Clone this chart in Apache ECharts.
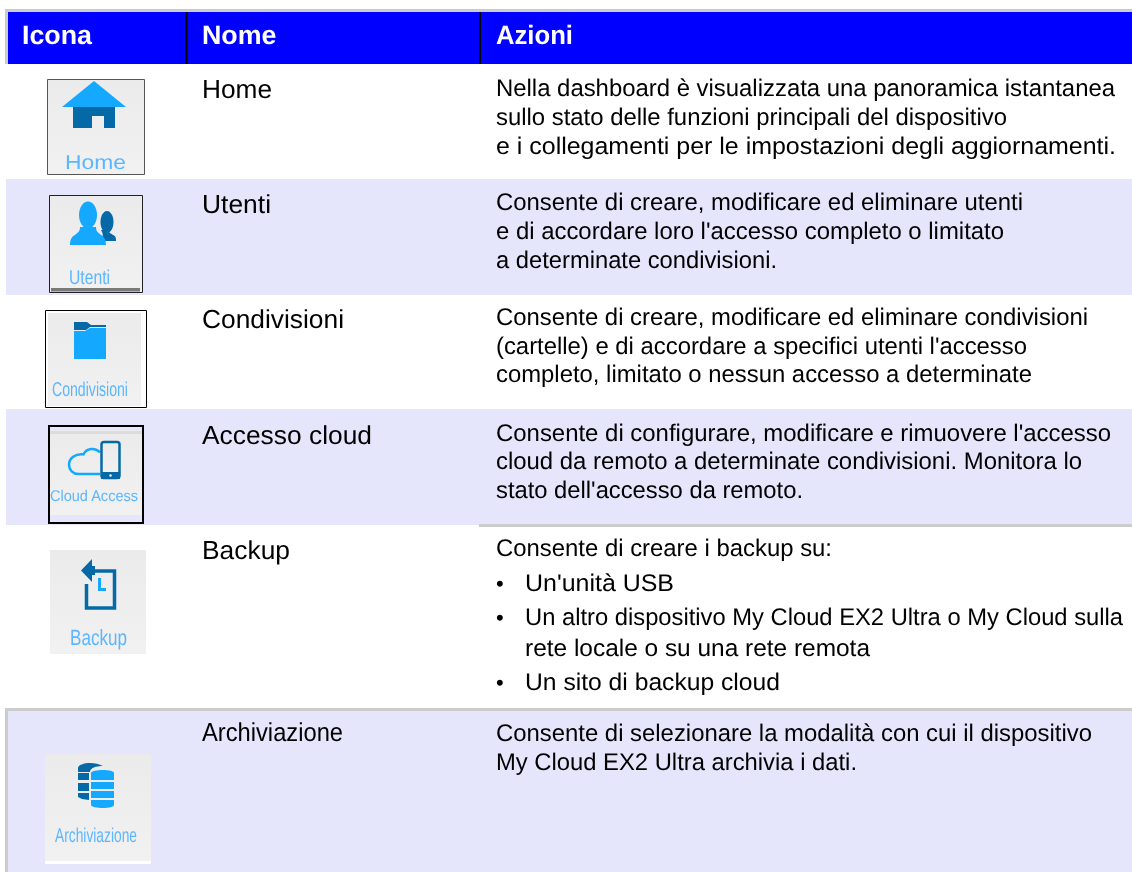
<!DOCTYPE html>
<html>
<head>
<meta charset="utf-8">
<style>html,body{margin:0;padding:0;background:#fff}#c{width:1132px;height:872px}</style>
<script src="https://cdn.jsdelivr.net/npm/echarts@6/dist/echarts.min.js"></script>
</head>
<body>
<div id="c"></div>
<script>
// ---- table content ----
const headers = ['Icona', 'Nome', 'Azioni'];
const names = ['Home', 'Utenti', 'Condivisioni', 'Accesso cloud', 'Backup', 'Archiviazione'];
const iconLabels = ['Home', 'Utenti', 'Condivisioni', 'Cloud Access', 'Backup', 'Archiviazione'];
const actionsHome = [
  'Nella dashboard è visualizzata una panoramica istantanea',
  'sullo stato delle funzioni principali del dispositivo',
  'e i collegamenti per le impostazioni degli aggiornamenti.'];
const actionsUtenti = [
  'Consente di creare, modificare ed eliminare utenti',
  "e di accordare loro l'accesso completo o limitato",
  'a determinate condivisioni.'];
const actionsCondivisioni = [
  'Consente di creare, modificare ed eliminare condivisioni',
  "(cartelle) e di accordare a specifici utenti l'accesso",
  'completo, limitato o nessun accesso a determinate'];
const actionsCloud = [
  "Consente di configurare, modificare e rimuovere l'accesso",
  'cloud da remoto a determinate condivisioni. Monitora lo',
  "stato dell'accesso da remoto."];
const actionsBackup = [
  'Consente di creare i backup su:',
  "Un'unità USB",
  'Un altro dispositivo My Cloud EX2 Ultra o My Cloud sulla',
  'rete locale o su una rete remota',
  'Un sito di backup cloud'];
const actionsArchiviazione = [
  'Consente di selezionare la modalità con cui il dispositivo',
  'My Cloud EX2 Ultra archivia i dati.'];

// unhinted glyphs, so that a line keeps its shape when it is fitted to its width
const nativeFillText = CanvasRenderingContext2D.prototype.fillText;
CanvasRenderingContext2D.prototype.fillText = function (s, x, y, m) {
  this.textRendering = 'geometricPrecision';
  return m === undefined ? nativeFillText.call(this, s, x, y) : nativeFillText.call(this, s, x, y, m);
};

// ---- drawing helpers ----
const FONT = '"Liberation Sans", Arial, sans-serif';
const mctx = document.createElement('canvas').getContext('2d');
mctx.textRendering = 'geometricPrecision';
// base = alphabetic baseline of the line; right = right edge of the line in the page
function txt(s, x, base, size, color, right, bold, soft) {
  const weight = bold ? 'bold' : 'normal';
  mctx.font = weight + ' ' + size + 'px "Liberation Sans"';
  const w = mctx.measureText(s).width;
  const sx = right ? (right - x) / w : 1;
  const style = { text: s, fill: color, font: weight + ' ' + size + 'px ' + FONT,
    textAlign: 'left', textVerticalAlign: 'middle' };
  if (soft) { style.shadowBlur = 2; style.shadowColor = color; }
  return { type: 'text', x: x, y: base - 0.26 * size, scaleX: sx, originX: 0, silent: true, style: style };
}
function rect(x, y, w, h, fill, stroke, lw) {
  return { type: 'rect', silent: true, shape: { x: x, y: y, width: w, height: h },
    style: { fill: fill || 'transparent', stroke: stroke || null, lineWidth: lw || 0 } };
}
function poly(points, fill) {
  return { type: 'polygon', silent: true, shape: { points: points }, style: { fill: fill } };
}
function pth(d, x, y, w, h, style) {
  return { type: 'path', silent: true, shape: { pathData: d, layout: 'cover', x: x, y: y, width: w, height: h }, style: style };
}
function ell(cx, cy, rx, ry, fill) {
  return { type: 'ellipse', silent: true, shape: { cx: cx, cy: cy, rx: rx, ry: ry }, style: { fill: fill } };
}
const iconBg = { type: 'linear', x: 0, y: 0, x2: 0, y2: 1,
  colorStops: [{ offset: 0, color: '#ebebeb' }, { offset: 1, color: '#f1f1f1' }] };
const LIGHT = '#14a9ff', DARK = '#0569a8', LABEL = '#5cb6ff';
const BLUE = '#0000ff', LAV = '#e5e5fc', GREY = '#cccccc';

const g = [];
// row bands
g.push(rect(6, 179, 1126, 116, LAV));
g.push(rect(6, 409, 1126, 116, LAV));
g.push(rect(8, 711, 1124, 161, LAV));
// header and rules
g.push(rect(5, 9, 1127, 3, GREY));
g.push(rect(5, 9, 3, 55, GREY));
g.push(rect(8, 12, 1124, 52, BLUE));
g.push(rect(185.5, 12, 2, 52, '#000'));
g.push(rect(479, 12, 2, 52, '#000'));
g.push(rect(479, 524, 653, 3, GREY));
g.push(rect(5, 708, 1127, 3, GREY));
g.push(rect(5, 708, 3, 164, GREY));
// header text
g.push(txt(headers[0], 22, 43.3, 26.5, '#fff', 92, true));
g.push(txt(headers[1], 202, 43.3, 26.5, '#fff', 276.5, true));
g.push(txt(headers[2], 496, 43.3, 26.5, '#fff', 573, true));
// names
const nameBase = [97.5, 212.5, 327.5, 443.5, 559, 741];
const nameR = [272, 271, 344, 372, 290, 343];
names.forEach((n, i) => g.push(txt(n, 202, nameBase[i], 26, '#000', nameR[i])));
// actions
function lines(arr, bases, rights, lefts) {
  arr.forEach((l, i) => g.push(txt(l, lefts ? lefts[i] : 496, bases[i], 24, '#000', rights[i])));
}
lines(actionsHome, [96, 125, 154], [1115, 1007, 1116]);
lines(actionsUtenti, [210, 239, 268], [1023, 1004, 777]);
lines(actionsCondivisioni, [325, 354, 382], [1088, 1027, 1032]);
lines(actionsCloud, [441, 469, 498], [1111, 1082, 803]);
lines(actionsBackup, [556, 591, 625, 656, 690], [832, 674, 1123, 870, 780], [496, 525, 525, 525, 525]);
lines(actionsArchiviazione, [741, 770], [1092, 857]);
// bullets
[591, 625, 690].forEach(y => g.push(txt('•', 496, y, 22, '#000')));

// icon: Home
g.push(rect(47.5, 79.5, 97, 95, iconBg, '#555', 1));
g.push(poly([[94, 81], [126, 107], [62, 107]], LIGHT));
g.push(pth('M0 0H42V21H31V9H19V21H0Z', 73, 107, 42, 21, { fill: DARK }));
g.push(txt(iconLabels[0], 65, 168.3, 20, LABEL, 126, false, true));
// icon: Utenti
g.push(rect(49.5, 195.5, 93, 97, iconBg, '#222', 1));
g.push(rect(51, 288, 89, 3.5, '#7a7a7a'));
g.push(ell(107, 222, 6.5, 11, DARK));
g.push(pth('M3 0H9C9 3 12 4 14 6C15 7 15 9 15 11H3C5 8 5 4 3 0Z', 101, 230, 15, 11, { fill: DARK }));
g.push(ell(88, 215, 9, 13.5, LIGHT));
g.push(pth('M10 0H26C26 4 28 5 31 7C34 8 36 11 36 16H0C0 11 2 8 5 7C8 5 10 4 10 0Z', 70, 227, 36, 18, { fill: LIGHT }));
g.push(txt(iconLabels[1], 69, 283.3, 20, LABEL, 110, false, true));
// icon: Condivisioni
g.push(rect(45.5, 310.5, 101, 97, '#fff', '#000', 1));
g.push(rect(48, 313, 93, 93, iconBg));
g.push(pth('M0 0H13L17 3H32V5H16L12 8H0Z', 74, 322, 32, 8, { fill: DARK }));
g.push(pth('M0 9H11L16 6H32V36H0Z', 74, 328, 32, 31, { fill: LIGHT }));
g.push(txt(iconLabels[2], 52, 396, 20, LABEL, 128, false, true));
// icon: Cloud Access
g.push(rect(49, 426, 94, 97, LAV, '#000', 2));
g.push(rect(50, 430, 92, 85, iconBg));
g.push(rect(50, 431, 92, 3, '#dcdcdc'));
g.push(pth('M30 4C25 -1 17 0 14 6C6 5 0 10 0 16C0 21 4 25 9 25H30', 69, 449, 31, 25, { fill: 'none', stroke: LIGHT, lineWidth: 2.5 }));
g.push({ type: 'rect', silent: true, shape: { x: 101.5, y: 442, width: 18, height: 36, r: 2.5 }, style: { fill: iconBg, stroke: DARK, lineWidth: 2.5 } });
g.push(rect(101, 472, 19, 7, DARK));
g.push({ type: 'circle', silent: true, shape: { cx: 110.5, cy: 475.5, r: 1.3 }, style: { fill: '#eee' } });
g.push(txt(iconLabels[3], 50, 501, 15.5, LABEL, 138, false, true));
// icon: Backup
g.push(rect(50, 550, 96, 104, iconBg));
g.push(pth('M6 0H29V37H0V13', 86.5, 571, 28, 37, { fill: 'none', stroke: DARK, lineWidth: 3.5 }));
g.push(poly([[81, 570.5], [92, 559], [92, 566], [95, 566], [95, 575], [92, 575], [92, 582]], DARK));
g.push(pth('M0 0H3V10H8V13H0Z', 98, 578, 8, 13, { fill: LIGHT }));
g.push(txt(iconLabels[4], 70, 645, 22, LABEL, 127, false, true));
// icon: Archiviazione
g.push(rect(45, 754, 106, 110, '#fff'));
g.push(rect(45, 754, 106, 107, iconBg));
g.push(pth('M0 5C0 2 6 0 12 0C17 0 21 1 25 3C18 3 12 5 12 9H0Z', 78, 763, 25, 9, { fill: DARK }));
g.push(rect(78, 773, 11, 7, DARK));
g.push(rect(78, 783, 11, 8, DARK));
g.push(poly([[78, 793], [89, 793], [89, 800], [82, 799], [78, 797]], DARK));
g.push(pth('M0 3C0 1 6 0 12 0C18 0 23 1 23 3V10H0Z', 91, 770, 23, 10, { fill: LIGHT }));
g.push(rect(91, 782, 23, 7, LIGHT));
g.push(rect(91, 791, 23, 7, LIGHT));
g.push(pth('M0 0H23V5C23 7 18 8 12 8C6 8 0 7 0 5Z', 91, 800, 23, 8, { fill: LIGHT }));
g.push(txt(iconLabels[5], 55, 841.7, 20, LABEL, 137, false, true));

const chart = echarts.init(document.getElementById('c'), null, { renderer: 'canvas', width: 1132, height: 872 });
chart.setOption({
  animation: false,
  backgroundColor: '#ffffff',
  series: [{
    type: 'custom',
    coordinateSystem: 'none',
    silent: true,
    data: [0],
    renderItem: () => ({ type: 'group', children: g })
  }]
});
</script>
</body>
</html>
